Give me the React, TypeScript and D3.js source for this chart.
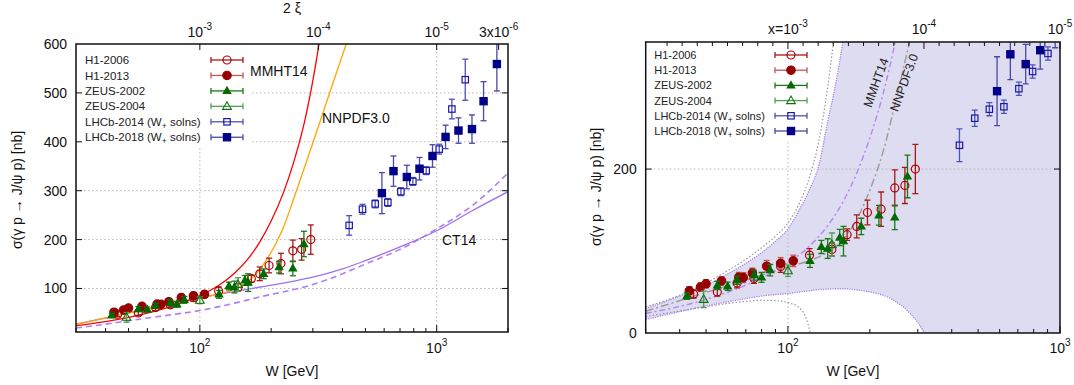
import React from 'react';
import * as d3 from 'd3';

// ---------------- DATA ----------------
const h1_2006_W = [45, 55, 65, 75, 94, 120, 145, 165, 179, 196, 220, 247, 269, 294];
const h1_2006_S = [47.5, 50, 61, 66.5, 81, 95, 102, 120, 130, 147, 151, 177, 180, 200];
const h1_2006_E = [5, 5, 6, 6, 7, 8, 8, 7, 14, 15, 21, 22, 22, 30];

const h1_2013_W = [43.4, 47.7, 50, 57, 66, 68.5, 74, 83.5, 94, 104.6];
const h1_2013_S = [51.5, 56, 60, 63.5, 68, 67.5, 73, 81.5, 85, 88];
const h1_2013_E = [5, 5, 5, 5, 6, 6, 6, 7, 7, 7];

const zeus2002_W = [42.5, 55, 60, 65, 75, 80, 86, 120.5, 132.7, 140, 155, 160, 186, 216, 247, 275];
const zeus2002_S = [45, 58, 57, 64.5, 70.6, 67.8, 76.7, 88, 105, 103, 116.5, 112, 130, 143.6, 141, 191];
const zeus2002_E = [4, 5, 5, 5, 6, 6, 7, 8, 8, 12, 10, 18, 10, 12, 15, 26];

const zeus2004_W = [49, 100, 145];
const zeus2004_S = [41, 76, 108];
const zeus2004_E = [10, 7, 14];

const lhcb2014_W = [427, 486, 550, 622, 706, 793, 903, 1025, 1159, 1320];
const lhcb2014_S = [229, 262, 273, 276, 298, 319, 341, 385, 467, 527];
const lhcb2014_E = [20, 10, 8, 8, 8, 8, 8, 10, 20, 42];

const lhcb2018_W = [587, 657, 748, 846, 960, 1090, 1236, 1409, 1577, 1795];
const lhcb2018_S = [295, 340, 328, 345, 371, 410, 423, 426, 483, 559];
const lhcb2018_E = [42, 31, 24, 23, 23, 24, 26, 29, 40, 55];

// theory curves (W [GeV], sigma [nb])
const mmhtW = [30, 40, 50, 60, 70, 80, 90, 100, 120, 140, 160, 180, 200, 225, 250, 280, 316, 340];
const mmhtS = [24, 32.4, 41, 49.7, 58.4, 67.2, 76.2, 85.6, 106, 131, 161, 197, 238, 295, 361, 452, 590, 698];

const nnpdfW = [30, 50, 70, 100, 118, 134, 150, 163, 180, 192, 210, 225, 248, 280, 320, 360, 415, 450];
const nnpdfS = [26.5, 49.5, 64.5, 80.5, 87.5, 95, 105.5, 118, 140, 160, 193, 224, 281, 355, 438, 512, 600, 650];

const ct14W = [30, 40, 50, 60, 70, 80, 100, 130, 180, 250, 300, 400, 500, 700, 1000, 1400, 2000];
const ct14S = [27, 40, 50, 58, 65, 71, 81, 91, 103, 115, 123, 140, 157, 185, 218, 258, 298];

const ct14dW = [30, 40, 50, 70, 100, 140, 180, 250, 300, 400, 500, 700, 1000, 1400, 2000];
const ct14dS = [19, 27, 34, 44, 55, 70, 83, 98, 108, 130, 150, 180, 222, 268, 336];

// right panel uncertainty band
const bandW = [30, 40, 50, 60, 70, 80, 90, 100, 110, 120, 130, 140, 150, 160, 175, 200, 224, 250, 281, 300, 318, 400, 1000];
const bandLo = [16.5, 26, 33, 38, 42, 45, 47, 48, 50, 51.5, 53, 53.5, 54, 54, 53, 50, 46, 38, 24, 13, 0, 0, 0];
const bandHi = [30, 45, 58, 72, 85, 98, 112, 127, 150, 175, 205, 258, 305, 360, 450, 600, 750, 900, 1000, 1000, 1000, 1000, 1000];

const grayHiW = [30, 40, 50, 60, 70, 80, 90, 100, 110, 120, 130, 140, 150];
const grayHiS = [32, 46, 61, 76, 90, 104, 118, 134, 158, 190, 235, 300, 380];
const grayLoW = [30, 40, 50, 60, 70, 80, 90, 100, 110, 116, 121];
const grayLoS = [20, 27, 32, 36, 38.5, 40, 39.5, 37, 31, 20, 0];

// axis ticks
const leftYTicks = [100, 200, 300, 400, 500, 600];
const rightYTicks = [0, 200];
const xiTicks = [1e-3, 1e-4, 1e-5, 3e-6];
const xiTickPre = ['', '', '', '3x'];
const xiTickExp = ['-3', '-4', '-5', '-6'];

const FONT = "'Liberation Sans', Arial, Helvetica, sans-serif";

type Kind = 'circle' | 'triangle' | 'square';
interface Series {
  name: string; sub?: boolean; W: number[]; S: number[]; E: number[];
  kind: Kind; filled: boolean; color: string; bar: string;
}

const series: Series[] = [
  { name: 'H1-2006', W: h1_2006_W, S: h1_2006_S, E: h1_2006_E, kind: 'circle', filled: false, color: '#b00000', bar: '#a81818' },
  { name: 'H1-2013', W: h1_2013_W, S: h1_2013_S, E: h1_2013_E, kind: 'circle', filled: true, color: '#950000', bar: '#c05858' },
  { name: 'ZEUS-2002', W: zeus2002_W, S: zeus2002_S, E: zeus2002_E, kind: 'triangle', filled: true, color: '#006a00', bar: '#187818' },
  { name: 'ZEUS-2004', W: zeus2004_W, S: zeus2004_S, E: zeus2004_E, kind: 'triangle', filled: false, color: '#107010', bar: '#50a050' },
  { name: 'LHCb-2014', sub: true, W: lhcb2014_W, S: lhcb2014_S, E: lhcb2014_E, kind: 'square', filled: false, color: '#1818a8', bar: '#5050b8' },
  { name: 'LHCb-2018', sub: true, W: lhcb2018_W, S: lhcb2018_S, E: lhcb2018_E, kind: 'square', filled: true, color: '#000088', bar: '#4848a8' },
];

function Marker({ cx, cy, kind, filled, color }: { cx: number; cy: number; kind: Kind; filled: boolean; color: string }) {
  const fill = filled ? color : 'none';
  if (kind === 'circle') return <circle cx={cx} cy={cy} r={filled ? 4.2 : 4} fill={fill} stroke={color} strokeWidth={1.2} />;
  if (kind === 'triangle') {
    const r = filled ? 4 : 4.6;
    return <polygon points={`${cx},${cy - r} ${cx + r * 0.95},${cy + r * 0.65} ${cx - r * 0.95},${cy + r * 0.65}`} fill={fill} stroke={color} strokeWidth={1.1} />;
  }
  const h = filled ? 3.6 : 3.2;
  return <rect x={cx - h} y={cy - h} width={2 * h} height={2 * h} fill={fill} stroke={color} strokeWidth={1.2} />;
}

function DataSeries({ s, x, y }: { s: Series; x: (v: number) => number; y: (v: number) => number }) {
  return (
    <g>
      {s.W.map((w, i) => {
        const cx = x(w), cy = y(s.S[i]);
        const y1 = y(s.S[i] + s.E[i]), y2 = y(s.S[i] - s.E[i]);
        return (
          <g key={i}>
            <line x1={cx} x2={cx} y1={y1} y2={y2} stroke={s.bar} strokeWidth={1.3} />
            <line x1={cx - 3} x2={cx + 3} y1={y1} y2={y1} stroke={s.bar} strokeWidth={1.3} />
            <line x1={cx - 3} x2={cx + 3} y1={y2} y2={y2} stroke={s.bar} strokeWidth={1.3} />
            <Marker cx={cx} cy={cy} kind={s.kind} filled={s.filled} color={s.color} />
          </g>
        );
      })}
    </g>
  );
}

function Legend({ tx, sx, y0, dy, fs, box }: { tx: number; sx: number; y0: number; dy: number; fs: number; box: [number, number, number, number] }) {
  return (
    <g>
      <rect x={box[0]} y={box[1]} width={box[2]} height={box[3]} fill="white" />
      {series.map((s, i) => {
        const cy = y0 + i * dy;
        return (
          <g key={s.name}>
            <text x={tx} y={cy + fs * 0.36} fontSize={fs} fill="#222">
              {s.name}
              {s.sub ? <>
                <tspan> (W</tspan><tspan dy={3} fontSize={fs * 0.75}>+</tspan><tspan dy={-3}> solns)</tspan>
              </> : null}
            </text>
            <line x1={sx - 16} x2={sx + 16} y1={cy} y2={cy} stroke={s.bar} strokeWidth={1.3} />
            <line x1={sx - 16} x2={sx - 16} y1={cy - 3} y2={cy + 3} stroke={s.bar} strokeWidth={1.3} />
            <line x1={sx + 16} x2={sx + 16} y1={cy - 3} y2={cy + 3} stroke={s.bar} strokeWidth={1.3} />
            <Marker cx={sx} cy={cy} kind={s.kind} filled={s.filled} color={s.color} />
          </g>
        );
      })}
    </g>
  );
}

function Pow({ x, y, pre, exp, fs = 14 }: { x: number; y: number; pre: string; exp: string; fs?: number }) {
  return (
    <text x={x} y={y} textAnchor="middle" fontSize={fs} fill="#111">
      {pre}10<tspan dy={-7} fontSize={fs * 0.72}>{exp}</tspan>
    </text>
  );
}

function minorLogTicks(lo: number, hi: number) {
  const out: { v: number; major: boolean }[] = [];
  for (let e = 1; e <= 3; e++) {
    for (let m = 1; m <= 9; m++) {
      const v = m * Math.pow(10, e);
      if (v >= lo * 0.999 && v <= hi * 1.001) out.push({ v, major: m === 1 });
    }
  }
  return out;
}

function LeftPanel() {
  const L = 76, R = 508, T = 44, B = 332;
  const x = d3.scaleLog().domain([30, 2000]).range([L, R]);
  const y = d3.scaleLinear().domain([11, 600]).range([B, T]);
  const line = (W: number[], S: number[]) =>
    d3.line<number>().x((_, i) => x(W[i])).y((_, i) => y(S[i])).curve(d3.curveMonotoneX)(S) || '';
  const wTicks = minorLogTicks(30, 2000);
  return (
    <g>
      <defs>
        <clipPath id="clipL"><rect x={L} y={T} width={R - L} height={B - T} /></clipPath>
      </defs>
      <g stroke="#b8b8b8" strokeWidth={1} strokeDasharray="1.5,2.5">
        {leftYTicks.slice(0, 5).map(v => <line key={v} x1={L} x2={R} y1={y(v)} y2={y(v)} />)}
        {[100, 1000].map(v => <line key={v} x1={x(v)} x2={x(v)} y1={T} y2={B} />)}
      </g>
      <g clipPath="url(#clipL)">
        <path d={line(ct14dW, ct14dS)} fill="none" stroke="#b07ef2" strokeWidth={1.6} strokeDasharray="6,4" />
        <path d={line(ct14W, ct14S)} fill="none" stroke="#a070f0" strokeWidth={1.3} />
        <path d={line(nnpdfW, nnpdfS)} fill="none" stroke="#ffa500" strokeWidth={1.3} />
        <path d={line(mmhtW, mmhtS)} fill="none" stroke="#ff0000" strokeWidth={1.3} />
        {series.map(s => <DataSeries key={s.name} s={s} x={x} y={y} />)}
      </g>
      <Legend tx={85} sx={227} y0={60} dy={15.45} fs={11.5} box={[L + 1, T + 1, 175, 102]} />
      <text x={250} y={76} fontSize={14} fill="#111">MMHT14</text>
      <text x={322} y={123} fontSize={14} fill="#111">NNPDF3.0</text>
      <text x={442} y={245} fontSize={14} fill="#111">CT14</text>
      <g stroke="#111" strokeWidth={1}>
        {leftYTicks.slice(0, 5).map(v => (
          <g key={v}>
            <line x1={L} x2={L + 6} y1={y(v)} y2={y(v)} />
            <line x1={R} x2={R - 6} y1={y(v)} y2={y(v)} />
          </g>
        ))}
        {wTicks.map(t => <line key={t.v} x1={x(t.v)} x2={x(t.v)} y1={B} y2={B - (t.major ? 7 : 4)} />)}
        {xiTicks.map(v => { const px = x(Math.sqrt(10 / v)); return <line key={v} x1={px} x2={px} y1={T} y2={T + 6} />; })}
      </g>
      <rect x={L} y={T} width={R - L} height={B - T} fill="none" stroke="#111" strokeWidth={1.5} />
      {leftYTicks.map(v => <text key={v} x={L - 9} y={y(v) + 5} textAnchor="end" fontSize={14} fill="#111">{v}</text>)}
      <Pow x={x(100)} y={353} pre="" exp="2" />
      <Pow x={x(1000)} y={353} pre="" exp="3" />
      {xiTicks.map((v, i) => <Pow key={v} x={x(Math.sqrt(10 / v))} y={37} pre={xiTickPre[i]} exp={xiTickExp[i]} />)}
      <text x={(L + R) / 2} y={13} textAnchor="middle" fontSize={14} fill="#111">2 ξ</text>
      <text x={(L + R) / 2} y={376} textAnchor="middle" fontSize={14} fill="#111">W [GeV]</text>
      <text transform="translate(22,190) rotate(-90)" textAnchor="middle" fontSize={14} fill="#111">σ(γ p → J/ψ p) [nb]</text>
    </g>
  );
}

function RightPanel() {
  const L = 645.7, R = 1060, T = 42, B = 333;
  const x = d3.scaleLog().domain([30, 1000]).range([L, R]);
  const y = d3.scaleLinear().domain([0, 355]).range([B, T]);
  const line = (W: number[], S: number[]) =>
    d3.line<number>().x((_, i) => x(W[i])).y((_, i) => y(S[i])).curve(d3.curveMonotoneX)(S) || '';
  const area = d3.area<number>().x((_, i) => x(bandW[i])).y0((_, i) => y(bandLo[i])).y1((_, i) => y(bandHi[i])).curve(d3.curveMonotoneX)(bandW) || '';
  const loIdx = bandLo.findIndex(v => v === 0);
  const wTicks = minorLogTicks(30, 1000);
  const topX = d3.scaleLinear().domain([1 - 2 * Math.log10(30), 1 - 2 * Math.log10(1000)]).range([L, R]);
  const topTicks: { v: number; major: boolean }[] = [];
  for (let k = 1; k <= 27; k++) topTicks.push({ v: -2 - k / 9, major: k % 9 === 0 });
  return (
    <g>
      <defs>
        <clipPath id="clipR"><rect x={L} y={T} width={R - L} height={B - T} /></clipPath>
      </defs>
      <g clipPath="url(#clipR)">
        <path d={area} fill="#dedcf0" stroke="none" />
        <g stroke="#b8b8b8" strokeWidth={1} strokeDasharray="1.5,2.5">
          <line x1={L} x2={R} y1={y(200)} y2={y(200)} />
          <line x1={x(100)} x2={x(100)} y1={T} y2={B} />
        </g>
        <path d={line(grayHiW, grayHiS)} fill="none" stroke="#999" strokeWidth={1.2} strokeDasharray="1.5,2" />
        <path d={line(grayLoW, grayLoS)} fill="none" stroke="#999" strokeWidth={1.2} strokeDasharray="1.5,2" />
        <path d={line(bandW.slice(0, 15), bandHi.slice(0, 15))} fill="none" stroke="#a77ef0" strokeWidth={1.3} strokeDasharray="1.2,1.2" />
        <path d={line(bandW.slice(0, loIdx + 1), bandLo.slice(0, loIdx + 1))} fill="none" stroke="#a77ef0" strokeWidth={1.3} strokeDasharray="1.2,1.2" />
        <path d={line(nnpdfW, nnpdfS)} fill="none" stroke="#9a9a9a" strokeWidth={1.4} strokeDasharray="8,3,2,3" />
        <path d={line(mmhtW, mmhtS)} fill="none" stroke="#b286f4" strokeWidth={1.4} strokeDasharray="6,3,2,3" />
        {series.map(s => <DataSeries key={s.name} s={s} x={x} y={y} />)}
      </g>
      <Legend tx={654.3} sx={791} y0={55} dy={15.2} fs={11} box={[L + 1, T + 1, 168, 97]} />
      <text transform="translate(880,84) rotate(-70)" textAnchor="middle" fontSize={12.5} fill="#222">MMHT14</text>
      <text transform="translate(908,84) rotate(-70)" textAnchor="middle" fontSize={12.5} fill="#222">NNPDF3.0</text>
      <g stroke="#111" strokeWidth={1}>
        {[200].map(v => (
          <g key={v}>
            <line x1={L} x2={L + 6} y1={y(v)} y2={y(v)} />
            <line x1={R} x2={R - 6} y1={y(v)} y2={y(v)} />
          </g>
        ))}
        {wTicks.map(t => <line key={t.v} x1={x(t.v)} x2={x(t.v)} y1={B} y2={B - (t.major ? 7 : 4)} />)}
        {topTicks.map(t => <line key={t.v} x1={topX(t.v)} x2={topX(t.v)} y1={T} y2={T + (t.major ? 7 : 4)} />)}
      </g>
      <rect x={L} y={T} width={R - L} height={B - T} fill="none" stroke="#111" strokeWidth={1.5} />
      {rightYTicks.map(v => <text key={v} x={L - 9} y={y(v) + 5} textAnchor="end" fontSize={14} fill="#111">{v}</text>)}
      <Pow x={x(100)} y={353} pre="" exp="2" />
      <Pow x={x(1000)} y={353} pre="" exp="3" />
      <Pow x={topX(-3)} y={34} pre="x=" exp="-3" />
      <Pow x={topX(-4)} y={34} pre="" exp="-4" />
      <Pow x={topX(-5)} y={34} pre="" exp="-5" />
      <text x={(L + R) / 2} y={376} textAnchor="middle" fontSize={14} fill="#111">W [GeV]</text>
      <text transform="translate(601,187) rotate(-90)" textAnchor="middle" fontSize={14} fill="#111">σ(γ p → J/ψ p) [nb]</text>
    </g>
  );
}

export default function App() {
  return (
    <svg width={1074} height={385} style={{ position: 'absolute', left: 0, top: 0, background: 'white' }} fontFamily={FONT}>
      <rect width={1074} height={385} fill="white" />
      <LeftPanel />
      <RightPanel />
    </svg>
  );
}
